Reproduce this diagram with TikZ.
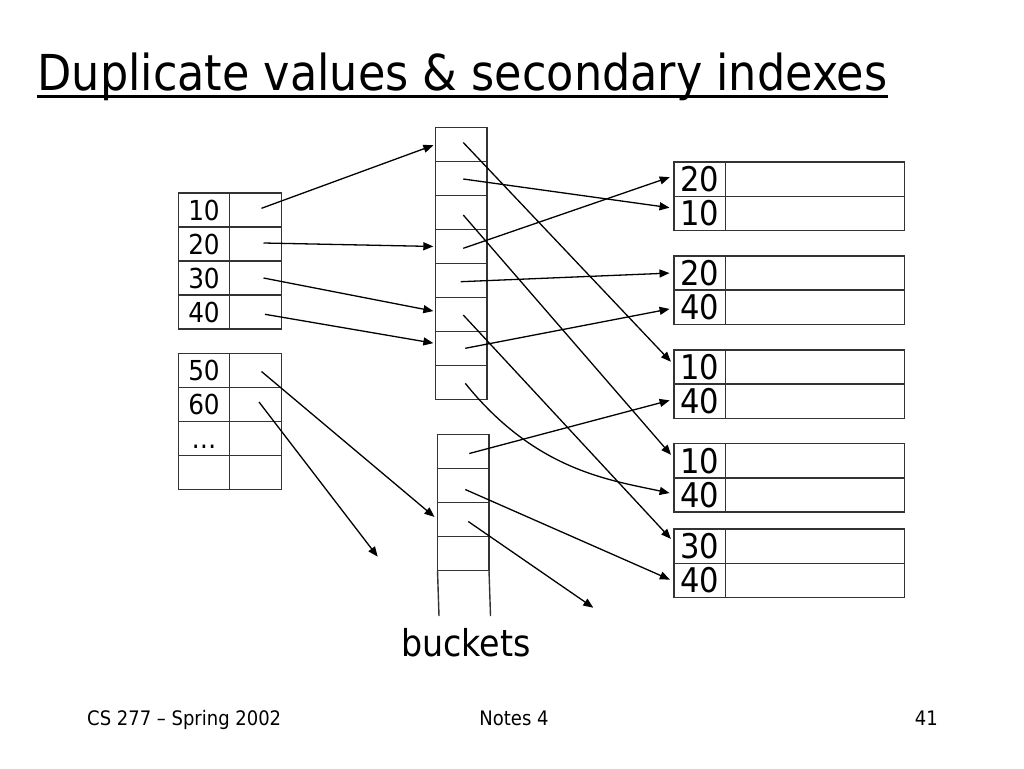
\documentclass[tikz,border=0pt]{standalone}
\usepackage{fontspec}
\setmainfont{DejaVu Sans Condensed}
\usepackage{tikz}
\usetikzlibrary{arrows.meta}

\tikzset{
  cell/.style={rectangle,draw=black!80,line width=1.4pt,minimum width=51.5pt,minimum height=34pt,inner sep=0pt,outer sep=0pt},
  keycell/.style={cell,font=\fontsize{27.5}{30}\selectfont,text height=20pt,text depth=0pt},
  reccell/.style={cell,minimum height=34.2pt,font=\fontsize{34}{36}\selectfont,text height=24.5pt,text depth=0pt},
  valcell/.style={cell,minimum width=179pt,minimum height=34.2pt},
  ptr/.style={line width=1.3pt,-{Triangle[length=10pt,width=8pt]}},
  torec/.style={ptr,shorten >=4.5pt},
}

\begin{document}
\begin{tikzpicture}[x=1pt,y=-1pt]
\useasboundingbox (0,0) rectangle (1024,768);

% title and footer
\node at (37.3,90)[anchor=base west,inner sep=0pt,font=\fontsize{49.5}{53}\selectfont](title){Duplicate values \& secondary indexes};
\draw[line width=2.6pt] ([yshift=-6.7pt]title.base west) -- ([yshift=-6.7pt]title.base east);
\node at (87,725)[anchor=base west,inner sep=0pt,font=\fontsize{20}{22}\selectfont](foot1){CS 277 -- Spring 2002};
\node at (514,725)[anchor=base,inner sep=0pt,font=\fontsize{20}{22}\selectfont](foot2){Notes 4};
\node at (938,725)[anchor=base east,inner sep=0pt,font=\fontsize{20}{22}\selectfont](foot3){41};

% secondary index, first block
\node at (204,210)[keycell](n10){10};
\node at (204,244)[keycell](n20){20};
\node at (204,278)[keycell](n30){30};
\node at (204,312)[keycell](n40){40};
\node at (255.5,210)[cell](p10){};
\node at (255.5,244)[cell](p20){};
\node at (255.5,278)[cell](p30){};
\node at (255.5,312)[cell](p40){};

% secondary index, second block
\node at (204,370.5)[keycell](n50){50};
\node at (204,404.5)[keycell](n60){60};
\node at (204,438.5)[keycell](ndots){\dots};
\node at (204,472.5)[keycell](nempty){};
\node at (255.5,370.5)[cell](p50){};
\node at (255.5,404.5)[cell](p60){};
\node at (255.5,438.5)[cell](pdots){};
\node at (255.5,472.5)[cell](pempty){};

% buckets
\node at (461.25,144.5)[cell](ba1){};
\node at (461.25,178.5)[cell](ba2){};
\node at (461.25,212.5)[cell](ba3){};
\node at (461.25,246.5)[cell](ba4){};
\node at (461.25,280.5)[cell](ba5){};
\node at (461.25,314.5)[cell](ba6){};
\node at (461.25,348.5)[cell](ba7){};
\node at (461.25,382.5)[cell](ba8){};
\node at (463.25,451.5)[cell](bb1){};
\node at (463.25,485.5)[cell](bb2){};
\node at (463.25,519.5)[cell](bb3){};
\node at (463.25,553.5)[cell](bb4){};
\coordinate (bbl) at (439,616);
\coordinate (bbr) at (490.5,616);
\draw[draw=black!80,line width=1.4pt] (bb4.south west) -- (bbl);
\draw[draw=black!80,line width=1.4pt] (bb4.south east) -- (bbr);
\node at (466,656.7)[anchor=base,inner sep=0pt,font=\fontsize{37}{40}\selectfont](lbl){buckets};

% records
\node at (699.75,179.1)[reccell](r11){20};
\node at (699.75,213.3)[reccell](r12){10};
\node at (699.75,272.9)[reccell](r21){20};
\node at (699.75,307.1)[reccell](r22){40};
\node at (699.75,367)[reccell](r31){10};
\node at (699.75,401.2)[reccell](r32){40};
\node at (699.75,460.8)[reccell](r41){10};
\node at (699.75,495)[reccell](r42){40};
\node at (699.75,546.2)[reccell](r51){30};
\node at (699.75,580.4)[reccell](r52){40};
\node at (815,179.1)[valcell](v11){};
\node at (815,213.3)[valcell](v12){};
\node at (815,272.9)[valcell](v21){};
\node at (815,307.1)[valcell](v22){};
\node at (815,367)[valcell](v31){};
\node at (815,401.2)[valcell](v32){};
\node at (815,460.8)[valcell](v41){};
\node at (815,495)[valcell](v42){};
\node at (815,546.2)[valcell](v51){};
\node at (815,580.4)[valcell](v52){};

% index -> buckets
\coordinate (free60) at (377.7,556.7);
\coordinate (freebb3) at (593.3,607.7);
\draw[ptr,shorten >=2.2pt] ([xshift=6pt,yshift=1.7pt]p10.center) -- (ba1.west);
\draw[ptr,shorten >=2.2pt] ([xshift=8pt,yshift=1pt]p20.center) -- (ba4.west);
\draw[ptr,shorten >=2.2pt] ([xshift=8pt]p30.center) -- ([yshift=3pt]ba6.west);
\draw[ptr,shorten >=2.2pt] ([xshift=9.5pt,yshift=-2.3pt]p40.center) -- ([yshift=5pt]ba7.west);
\draw[ptr,shorten >=4pt] ([xshift=6pt,yshift=-1pt]p50.center) -- (bb3.west);
\draw[ptr] ([xshift=3.5pt,yshift=2.5pt]p60.center) -- (free60);

% buckets -> records
\draw[torec] ([xshift=2pt,yshift=2pt]ba1.center) -- ([yshift=2pt]r31.west);
\draw[torec] ([xshift=2pt,yshift=-0.5pt]ba2.center) -- ([yshift=5pt]r12.west);
\draw[torec] ([xshift=2pt,yshift=-2.5pt]ba3.center) -- ([yshift=2.5pt]r41.west);
\draw[torec] ([xshift=2pt,yshift=-1.8pt]ba4.center) -- ([yshift=3.4pt]r11.west);
\draw[torec] ([xshift=-0.5pt,yshift=-1.2pt]ba5.center) -- (r21.west);
\draw[torec] ([xshift=2pt,yshift=-0.5pt]ba6.center) -- ([yshift=4pt]r51.west);
\draw[torec] ([xshift=4pt,yshift=0.2pt]ba7.center) -- ([yshift=-1pt]r22.west);
\draw[torec] ([xshift=4pt,yshift=-0.8pt]ba8.center) .. controls +(70,87) and +(-65,-14) .. ([yshift=1pt]r42.west);
\draw[torec] ([xshift=6pt,yshift=-2pt]bb1.center) -- ([yshift=2pt]r32.west);
\draw[torec] ([xshift=2pt,yshift=-4pt]bb2.center) -- ([yshift=-1pt]r52.west);
\draw[ptr] ([xshift=5pt,yshift=-2pt]bb3.center) -- (freebb3);
\end{tikzpicture}
\end{document}
